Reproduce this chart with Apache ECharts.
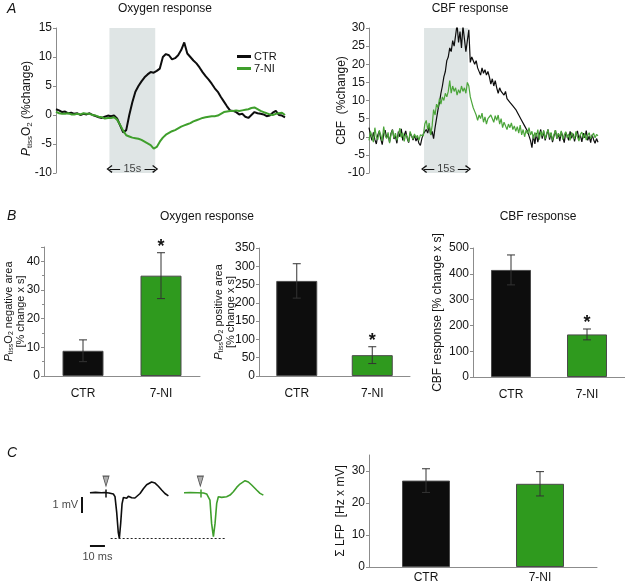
<!DOCTYPE html>
<html><head><meta charset="utf-8">
<script src="https://cdn.jsdelivr.net/npm/echarts@6/dist/echarts.min.js"></script>
<style>html,body{margin:0;padding:0;background:#fff}#c{width:625px;height:582px}</style>
</head><body><div id="c"></div><script>
// ---------------- DATA ----------------
// Panel A: oxygen response (% change), 1 s samples, t = 0..75 s
const oxyStep = 1;
const oxyStim = [17.5, 32.5];
const oxyCTR = [1.0,0.8,0.5,0.6,0.3,0.4,0.2,0.3,0.0,0.2,0.1,0.3,0.0,-0.2,-0.4,-0.5,-0.3,-0.1,-0.2,-0.1,
  -0.6,-1.8,-3.0,-2.6,0.0,2.2,4.0,5.0,5.8,6.5,7.0,7.4,7.3,7.6,8.0,10.0,10.5,10.3,9.6,9.8,
  10.3,11.2,12.5,10.6,10.0,9.4,8.9,8.2,7.4,6.7,6.1,5.4,4.6,4.0,3.1,2.3,1.5,0.8,0.7,0.5,
  0.1,0.2,-0.3,-0.5,0.0,0.5,0.3,0.2,0.1,-0.2,-0.1,0.4,0.7,0.0,-0.1,-0.4];
const oxy7NI = [0.6,0.3,0.2,0.2,0.3,0.1,0.1,0.2,0.1,0.3,0.2,0.2,0.0,-0.1,-0.3,-0.4,-0.6,-0.5,-0.5,-0.4,
  -0.8,-1.7,-2.7,-3.5,-3.7,-3.9,-4.0,-4.1,-4.3,-4.6,-4.9,-5.2,-5.8,-5.5,-4.6,-3.9,-3.4,-3.1,-2.8,-2.6,
  -2.3,-2.0,-1.8,-1.6,-1.4,-1.1,-0.9,-0.7,-0.5,-0.4,-0.3,-0.2,-0.2,-0.1,0.2,0.5,0.6,0.7,0.7,0.8,
  0.7,0.8,0.9,1.0,1.2,1.3,1.0,0.7,0.5,0.3,0.1,0.0,0.2,0.3,0.4,0.0];
const oxyTicks = {min:-10, max:15, interval:5};

// Panel A: CBF response (% change), 0.5 s samples, t = 0..78 s
const cbfStep = 0.5;
const cbfStim = [18.75, 33.75];
const cbfCTR = [2.5,0.5,-1.0,1.2,-0.8,-2.0,0.5,1.5,-0.5,-2.2,0.8,1.8,-0.3,0.6,-1.5,1.0,2.0,-0.6,0.2,-1.8,
  1.4,0.0,2.2,-1.0,0.4,1.6,-0.4,-1.6,0.9,0.3,-0.9,0.5,-1.2,-0.2,-1.8,-2.4,-0.5,0.8,
  0.5,2.0,1.0,3.0,0.5,1.5,-0.5,2.5,5.0,7.5,9.5,12.0,14.0,16.5,18.0,21.0,22.0,24.5,23.5,26.5,25.0,28.0,
  31.0,26.0,29.0,24.5,30.5,27.0,23.5,26.5,29.5,20.5,22.0,22.5,20.0,21.0,19.0,18.5,17.0,19.0,17.5,18.5,
  17.0,18.0,16.5,14.5,16.0,14.0,15.5,13.5,12.0,13.5,12.5,13.0,11.5,12.5,10.5,11.0,9.5,10.0,8.5,9.0,
  7.5,8.0,6.0,6.5,4.5,5.0,3.0,3.5,1.5,2.0,-1.0,-3.0,0.5,-2.0,1.0,-1.5,0.5,2.0,-0.5,
  1.5,-1.0,0.5,2.0,-0.8,1.0,-1.5,0.2,1.8,-0.5,0.8,-1.2,1.4,0.0,-1.6,1.2,0.3,-1.0,1.5,-0.4,
  0.9,-1.3,0.5,1.6,-0.7,0.4,-1.4,1.0,-0.3,1.7,-1.0,0.2,-1.6,0.6,-0.8,-1.8,-0.5,-1.5];
const cbf7NI = [-1.0,1.5,0.2,-1.5,2.5,0.0,-0.8,1.8,0.5,-1.2,2.8,0.3,-0.5,1.2,-1.8,0.6,1.9,-0.4,1.0,-1.0,
  0.4,2.4,-0.2,1.1,-1.3,0.7,0.0,-1.4,1.5,0.2,-0.6,0.8,-0.3,0.4,-1.0,0.5,1.0,0.2,
  3.5,4.5,2.0,3.8,0.5,3.0,7.5,6.0,9.0,8.0,10.5,9.0,11.0,10.0,12.0,11.0,12.5,15.5,12.0,14.0,12.5,13.5,
  11.5,13.0,12.0,14.0,12.5,13.5,12.0,15.0,14.0,11.0,9.5,8.0,7.0,6.0,4.5,6.0,5.0,6.5,4.0,5.5,
  3.5,5.0,4.5,6.0,5.5,4.0,5.8,4.5,6.0,3.5,5.0,2.5,4.0,3.0,2.0,3.5,2.5,3.8,2.0,3.0,
  1.5,2.8,1.0,3.2,0.5,2.0,0.0,1.8,0.8,2.5,0.5,1.5,-0.5,1.2,0.0,2.0,-0.8,1.5,0.2,
  1.8,-0.6,0.9,2.0,-0.2,1.2,-1.0,0.6,1.8,-0.5,1.0,0.0,1.6,-0.8,0.5,1.4,-0.3,0.8,-1.0,1.2,
  0.3,-0.6,1.5,0.0,-1.2,0.7,1.3,-0.4,0.9,-0.9,0.4,1.1,-0.5,0.2,1.0,-0.3,0.6,0.3];
const cbfTicks = {min:-10, max:30, interval:5};

// Panel B / C bar groups
const groups = ['CTR', '7-NI'];
const negArea = [8.8, 35.0],  negAreaErr = [3.8, 8.0],  negSig = ['', '*'];
const posArea = [260, 57],    posAreaErr = [47, 23],    posSig = ['', '*'];
const cbfArea = [415, 165],   cbfAreaErr = [58, 21],    cbfSig = ['', '*'];
const lfpSum  = [27.0, 26.0], lfpSumErr  = [3.7, 3.8],  lfpSig = ['', ''];

// Panel C: LFP example traces [ms, mV]
const lfpCTR = [[23.3,0],[27,0.02],[31,0],[33,0.01],[36,-0.02],[38.9,-0.08],[40,-0.25],[41.1,-1.2],[42.2,-2.5],[42.9,-2.85],
  [43.8,-1.9],[44.7,-0.7],[45.6,-0.3],[46.7,-0.2],[47.8,-0.35],[48.9,-0.22],[50,-0.25],[51.1,-0.32],[52.2,-0.28],[53.3,-0.33],
  [54.4,-0.25],[56.7,-0.05],[58.9,0.25],[61.1,0.5],[64.4,0.67],[66.7,0.6],[68.9,0.4],[71.1,0.17],[73.3,-0.05],[75.6,-0.2]];
const lfp7NI = [[86,0],[90,0.01],[95,0],[99,-0.02],[101.1,-0.08],[103.3,-0.46],[104.4,-1.92],[105.6,-2.75],[106.7,-1.92],[107.8,-0.67],
  [108.9,-0.25],[110,-0.15],[111.1,-0.29],[112.2,-0.21],[114.4,-0.25],[116.7,-0.15],[118.9,0.06],[121.1,0.33],[123.3,0.54],[126.7,0.75],
  [128.9,0.67],[131.1,0.48],[134.4,0.17],[136.7,-0.04],[138.9,-0.15]];
const lfpStim = [34, 96.9];
const lfpPeakLine = {y:-2.85, from:37.1, to:113.3};
const scaleV = {t:17.8, from:-0.27, to:-1.27, label:'1 mV'};
const scaleT = {v:-3.33, from:23.3, to:33.3, label:'10 ms'};

// ---------------- STYLE ----------------
const FF = '"Liberation Sans", Arial, sans-serif';
const AX = '#8c8c8c', TXT = '#141414';
const BLACK = '#0d0d0d', GREEN = '#2f9a1e', GREEN_T = '#3f9f2c';
const CHEV = 'path://M5,0 L10,8 L8.6,9.2 L5,3 L1.4,9.2 L0,8 Z';

const chart = echarts.init(document.getElementById('c'), null, {renderer:'canvas'});

function richFor(fs, lh) {
  return {
    i:{fontStyle:'italic', fontSize:fs, lineHeight:lh, fontFamily:FF, color:TXT},
    s:{fontSize:Math.round(fs*0.68), lineHeight:7, verticalAlign:'bottom', fontFamily:FF, color:TXT}
  };
}
function yAx(gi, t, name, gap, opts) {
  opts = opts || {};
  const fs = opts.fs || 12, lh = opts.lh || 15;
  return {
    type:'value', gridIndex:gi, min:t.min, max:t.max, interval:t.interval,
    axisLine:{show:true, lineStyle:{color:AX, width:1}},
    axisTick:{show:true, length:3, lineStyle:{color:AX}},
    splitLine:{show:false},
    axisLabel:{color:TXT, fontSize:12, fontFamily:FF, margin:4, showMaxLabel: opts.hideMax ? false : true},
    minorTick: opts.minor ? {show:true, splitNumber:2, length:2, lineStyle:{color:AX}} : {show:false},
    name:name, nameLocation:'middle', nameGap:gap, nameMoveOverlap:false,
    nameTextStyle:{fontSize:fs, fontFamily:FF, color:TXT, lineHeight:lh, rich:richFor(fs, lh), padding: opts.pad || 0}
  };
}
function catAx(gi, margin) {
  return {type:'category', gridIndex:gi, data:groups,
    axisLine:{show:true, lineStyle:{color:AX}}, axisTick:{show:false},
    axisLabel:{color:TXT, fontSize:12, fontFamily:FF, margin:margin}};
}
function barSeries(gi, vals, width) {
  return {type:'bar', xAxisIndex:gi, yAxisIndex:gi, barWidth:width, z:2,
    data: vals.map((v,i)=>({value:v, itemStyle:{color: i===0 ? BLACK : GREEN, borderColor:'#4a4a4a', borderWidth:1}}))};
}
function errSeries(gi, vals, errs, sigs) {
  return {type:'custom', xAxisIndex:gi, yAxisIndex:gi, z:5, silent:true,
    data: vals.map((v,i)=>[i, v, errs[i]]),
    renderItem:(p, api)=>{
      const i = api.value(0), m = api.value(1), e = api.value(2);
      const t = api.coord([i, m+e]), b = api.coord([i, m-e]);
      const w = 4, st = {stroke:'#333', lineWidth:1};
      const ch = [
        {type:'line', shape:{x1:t[0], y1:t[1], x2:b[0], y2:b[1]}, style:st},
        {type:'line', shape:{x1:t[0]-w, y1:t[1], x2:t[0]+w, y2:t[1]}, style:st},
        {type:'line', shape:{x1:b[0]-w, y1:b[1], x2:b[0]+w, y2:b[1]}, style:st}
      ];
      if (sigs[p.dataIndex]) ch.push({type:'text', style:{text:sigs[p.dataIndex], x:t[0], y:t[1]-6,
        align:'center', verticalAlign:'middle', font:'bold 18px ' + FF, fill:TXT}});
      return {type:'group', children:ch};
    }};
}
function traceData(arr, step) { return arr.map((v,i)=>[i*step, v]); }
function stimDecor(gi, stim, arrowY) {
  const mid = (stim[0]+stim[1])/2;
  return [
    {type:'line', xAxisIndex:gi, yAxisIndex:gi, data:[], z:1, silent:true,
      markArea:{silent:true, itemStyle:{color:'#dfe5e5'}, data:[[{xAxis:stim[0]},{xAxis:stim[1]}]]},
      markLine:{silent:true, animation:false, lineStyle:{color:'#111', width:1, type:'solid'}, label:{show:false},
        data:[
          [{coord:[stim[0], arrowY], symbol:CHEV, symbolSize:[8,6]}, {coord:[mid-4, arrowY], symbol:'none'}],
          [{coord:[mid+4, arrowY], symbol:'none'}, {coord:[stim[1], arrowY], symbol:CHEV, symbolSize:[8,6]}]
        ]}},
    {type:'scatter', xAxisIndex:gi, yAxisIndex:gi, z:3, silent:true, symbolSize:1,
      itemStyle:{color:'rgba(0,0,0,0)'}, data:[[mid, arrowY]],
      label:{show:true, position:'inside', formatter:'15s', color:TXT, fontSize:11, fontFamily:FF}}
  ];
}

const titleStyle = {fontSize:12, fontWeight:'normal', color:TXT, fontFamily:FF};
const letterStyle = {fontSize:14, fontStyle:'italic', fontWeight:'normal', color:TXT, fontFamily:FF};
const option = {
  animation:false,
  backgroundColor:'#fff',
  textStyle:{fontFamily:FF},
  title:[
    {text:'A', left:2, top:-3, textStyle:letterStyle},
    {text:'B', left:2, top:204, textStyle:letterStyle},
    {text:'C', left:2, top:441, textStyle:letterStyle},
    {text:'Oxygen response', left:160, top:-2, textAlign:'center', textStyle:titleStyle},
    {text:'CBF response', left:465, top:-2, textAlign:'center', textStyle:titleStyle},
    {text:'Oxygen response', left:202, top:206, textAlign:'center', textStyle:titleStyle},
    {text:'CBF response', left:533, top:206, textAlign:'center', textStyle:titleStyle}
  ],
  legend:{left:232, top:46, orient:'vertical', itemGap:1, itemWidth:14, itemHeight:3, icon:'rect', selectedMode:false,
    data:['CTR','7-NI'], textStyle:{fontSize:11, color:TXT, fontFamily:FF, padding:[0,0,0,-2]}},
  grid:[
    {left:56, top:28, width:229, height:145, outerBoundsMode:'none'},
    {left:369, top:28, width:229, height:145, outerBoundsMode:'none'},
    {left:44, top:247, width:156, height:129, outerBoundsMode:'none'},
    {left:259, top:248, width:151, height:128, outerBoundsMode:'none'},
    {left:473, top:248, width:152, height:129, outerBoundsMode:'none'},
    {left:55, top:468.7, width:217.5, height:96, outerBoundsMode:'none'},
    {left:369, top:455, width:228, height:112, outerBoundsMode:'none'}
  ],
  xAxis:[
    {type:'value', gridIndex:0, min:0, max:75, show:false},
    {type:'value', gridIndex:1, min:0, max:78, show:false},
    catAx(2, 12), catAx(3, 12), catAx(4, 12),
    {type:'value', gridIndex:5, min:0, max:145, show:false},
    catAx(6, 5)
  ],
  yAxis:[
    yAx(0, oxyTicks, '{i|P}{s|tiss}O{s|2} (%change)', 22, {pad:[0,16,0,0]}),
    yAx(1, cbfTicks, 'CBF  (%change)', 20),
    yAx(2, {min:0, max:45, interval:10}, '{i|P}{s|tiss}O{s|2} negative area\n[% change x s]', 17, {minor:true, hideMax:true, fs:11, lh:12}),
    yAx(3, {min:0, max:350, interval:50}, '{i|P}{s|tiss}O{s|2} positive area\n[% change x s]', 22, {fs:11, lh:12}),
    yAx(4, {min:0, max:500, interval:100}, 'CBF response [% change x s]', 28),
    {type:'value', gridIndex:5, min:-4.5, max:1.5, show:false},
    yAx(6, {min:0, max:35, interval:10}, 'Σ LFP  [Hz x mV]', 21, {hideMax:true})
  ],
  series:[
    ...stimDecor(0, oxyStim, -9.3),
    {type:'line', name:'CTR', xAxisIndex:0, yAxisIndex:0, z:2, showSymbol:false, color:BLACK,
      lineStyle:{color:BLACK, width:2}, data:traceData(oxyCTR, oxyStep)},
    {type:'line', name:'7-NI', xAxisIndex:0, yAxisIndex:0, z:3, showSymbol:false, color:GREEN_T,
      lineStyle:{color:GREEN_T, width:2}, data:traceData(oxy7NI, oxyStep)},
    ...stimDecor(1, cbfStim, -8.9),
    {type:'line', name:'CTR', xAxisIndex:1, yAxisIndex:1, z:2, showSymbol:false, color:BLACK,
      lineStyle:{color:BLACK, width:1.2}, data:traceData(cbfCTR, cbfStep)},
    {type:'line', name:'7-NI', xAxisIndex:1, yAxisIndex:1, z:3, showSymbol:false, color:GREEN_T,
      lineStyle:{color:'#4ba53a', width:1.2}, data:traceData(cbf7NI, cbfStep)},
    barSeries(2, negArea, 41), errSeries(2, negArea, negAreaErr, negSig),
    barSeries(3, posArea, 41), errSeries(3, posArea, posAreaErr, posSig),
    barSeries(4, cbfArea, 40), errSeries(4, cbfArea, cbfAreaErr, cbfSig),
    barSeries(6, lfpSum, 48), errSeries(6, lfpSum, lfpSumErr, lfpSig),
    // Panel C traces
    {type:'line', xAxisIndex:5, yAxisIndex:5, z:3, showSymbol:false, silent:true,
      lineStyle:{color:BLACK, width:1.6}, data:lfpCTR},
    {type:'line', xAxisIndex:5, yAxisIndex:5, z:3, showSymbol:false, silent:true,
      lineStyle:{color:GREEN_T, width:1.6}, data:lfp7NI},
    {type:'line', xAxisIndex:5, yAxisIndex:5, data:[], silent:true,
      markLine:{silent:true, symbol:'none', label:{show:false}, animation:false,
        data:[
          [{coord:[lfpPeakLine.from, lfpPeakLine.y], lineStyle:{color:'#222', width:1.2, type:[2,2]}}, {coord:[lfpPeakLine.to, lfpPeakLine.y]}],
          [{coord:[scaleV.t, scaleV.from], lineStyle:{color:'#111', width:2, type:'solid'}}, {coord:[scaleV.t, scaleV.to]}],
          [{coord:[scaleT.from, scaleT.v], lineStyle:{color:'#111', width:2, type:'solid'}}, {coord:[scaleT.to, scaleT.v]}],
          [{coord:[lfpStim[0], 0.2], lineStyle:{color:BLACK, width:1.5, type:'solid'}}, {coord:[lfpStim[0], -0.3]}],
          [{coord:[lfpStim[1], 0.2], lineStyle:{color:GREEN_T, width:1.5, type:'solid'}}, {coord:[lfpStim[1], -0.3]}]
        ]}},
    {type:'scatter', xAxisIndex:5, yAxisIndex:5, z:4, silent:true, symbol:'triangle', symbolRotate:180,
      symbolSize:[6,10], itemStyle:{color:'#9a9a9a', borderColor:'#333', borderWidth:1},
      data: lfpStim.map(t=>[t, 0.72])},
    {type:'scatter', xAxisIndex:5, yAxisIndex:5, z:4, silent:true, symbolSize:1, itemStyle:{color:'rgba(0,0,0,0)'},
      data:[
        {value:[scaleV.t, (scaleV.from+scaleV.to)/2], label:{show:true, position:'left', distance:3, formatter:scaleV.label, color:TXT, fontSize:11, fontFamily:FF}},
        {value:[(scaleT.from+scaleT.to)/2, scaleT.v-0.7], label:{show:true, position:'inside', formatter:scaleT.label, color:TXT, fontSize:11, fontFamily:FF}}
      ]}
  ]
};
chart.setOption(option);
</script></body></html>
